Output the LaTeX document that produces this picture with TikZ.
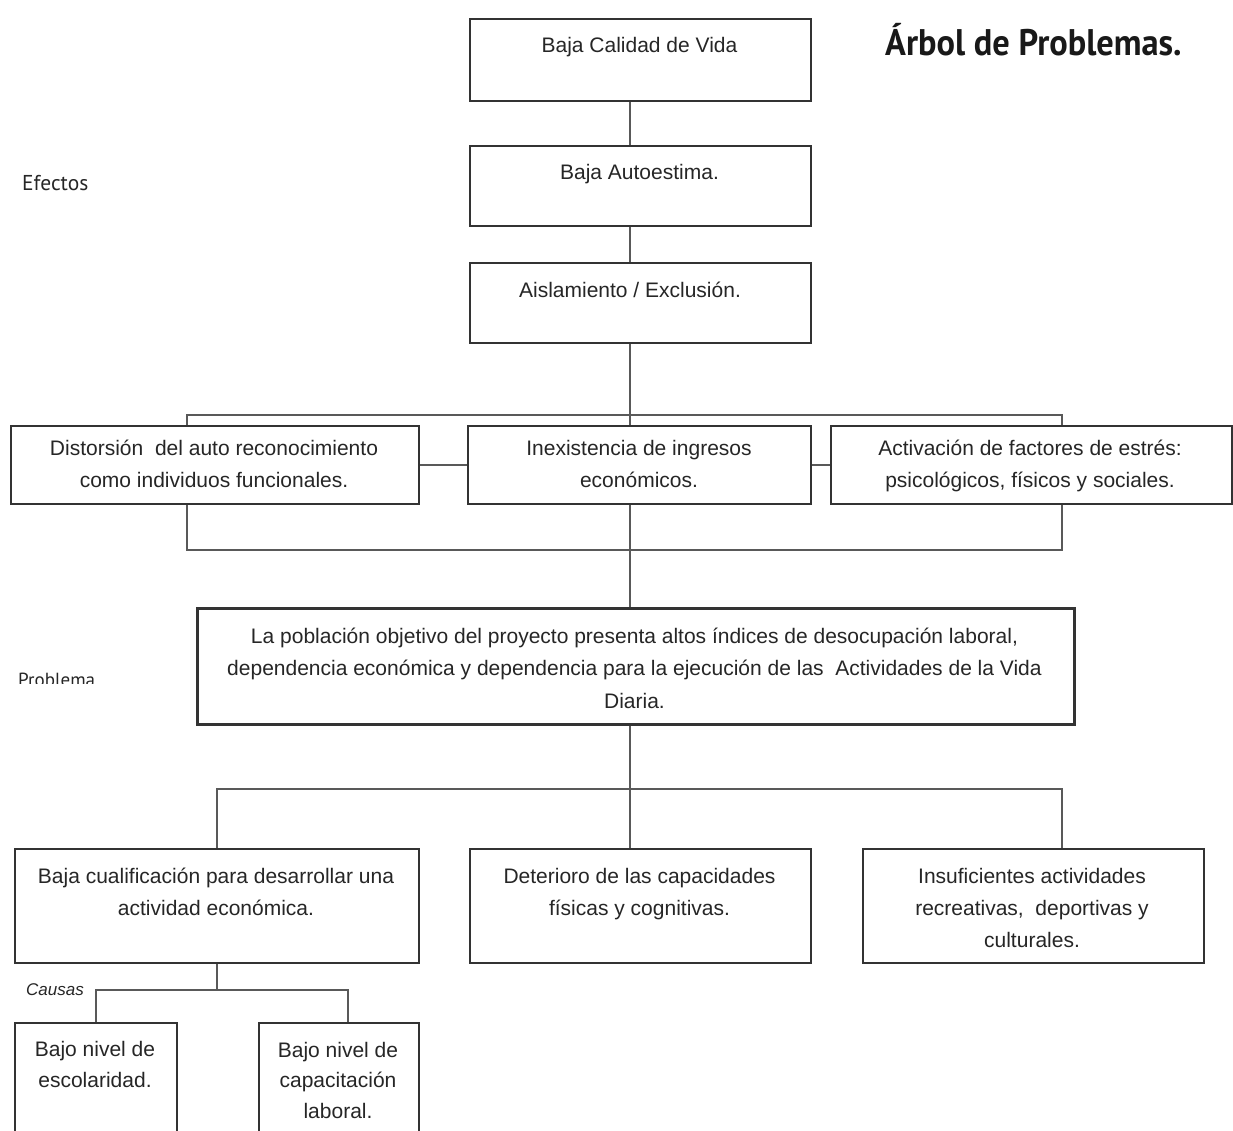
\documentclass[tikz,border=0pt]{standalone}
\usepackage{fontspec}
\setmainfont{Liberation Sans}
\newfontfamily\titlefont{PT Sans}
\usetikzlibrary{backgrounds}
\begin{document}
\begin{tikzpicture}[x=1pt,y=-1pt,
  box/.style={draw=black!80, line width=1.6pt, fill=white, anchor=north west, inner sep=0pt},
  txt/.style={font=\fontsize{21}{32.5}\selectfont, align=center, anchor=base, inner sep=0pt, text=black!85},
  conn/.style={draw=black!65, line width=1.4pt},
  lbl/.style={font=\titlefont\fontsize{21.5}{23}\selectfont, anchor=base west, inner sep=0pt, text=black!85}]
\useasboundingbox (0,0) rectangle (1233,1130);
% boxes
\node[box, minimum width=341pt, minimum height=82pt] (b1) at (469,18) {};
\node[box, minimum width=341pt, minimum height=80pt] (b2) at (469,145) {};
\node[box, minimum width=341pt, minimum height=80pt] (b3) at (469,262) {};
\node[box, minimum width=408pt, minimum height=78pt] (A) at (10,425) {};
\node[box, minimum width=343pt, minimum height=78pt] (B) at (467,425) {};
\node[box, minimum width=401pt, minimum height=78pt] (C) at (830,425) {};
\node[box, line width=2.6pt, minimum width=877pt, minimum height=116pt] (P) at (196,607) {};
\node[box, minimum width=404pt, minimum height=114pt] (D) at (14,848) {};
\node[box, minimum width=341pt, minimum height=114pt] (E) at (469,848) {};
\node[box, minimum width=341pt, minimum height=114pt] (F) at (862,848) {};
\node[box, minimum width=162pt, minimum height=140pt] (G) at (14,1022) {};
\node[box, minimum width=160pt, minimum height=140pt] (H) at (258,1022) {};
% junction coordinates
\coordinate (tx) at (630,0);
\coordinate (ba) at (187,415);
\coordinate (bc) at (1062,415);
\coordinate (bl) at (187,550);
\coordinate (br) at (1062,550);
\coordinate (lj) at (217,789);
\coordinate (rj) at (1062,789);
\coordinate (cj) at (217,990);
\coordinate (ch) at (348,990);
% connectors
\begin{scope}[on background layer]
\draw[conn] (tx |- b1.south) -- (tx |- b2.north);
\draw[conn] (tx |- b2.south) -- (tx |- b3.north);
\draw[conn] (tx |- b3.south) -- (tx |- P.north);
\draw[conn] (ba |- A.north) -- (ba) -- (bc) -- (bc |- C.north);
\draw[conn] (bl |- A.south) -- (bl) -- (br) -- (br |- C.south);
\draw[conn] (A.east) -- (B.west);
\draw[conn] (B.east) -- (C.west);
\draw[conn] (tx |- P.south) -- (tx |- E.north);
\draw[conn] (lj |- D.north) -- (lj) -- (rj) -- (rj |- F.north);
\draw[conn] (cj |- D.south) -- (cj);
\draw[conn] (G.north) -- (G.north |- ch) -- (ch) -- (ch |- H.north);
\end{scope}
% texts (anchor = baseline of last line)
\node[txt] (t1) at (639.5,52) {Baja Calidad de Vida};
\node[txt] (t2) at (639.5,179) {Baja Autoestima.};
\node[txt] (t3) at (630,297) {Aislamiento / Exclusión.};
\node[txt] (tA) at (214,487.5) {Distorsión\ \ del auto reconocimiento\\como individuos funcionales.};
\node[txt] (tB) at (639,487.5) {Inexistencia de ingresos\\económicos.};
\node[txt] (tC) at (1030,487.5) {Activación de factores de estrés:\\psicológicos, físicos y sociales.};
\node[txt] (tP) at (634.5,708) {La población objetivo del proyecto presenta altos índices de desocupación laboral,\\dependencia económica y dependencia para la ejecución de las\ \ Actividades de la Vida\\Diaria.};
\node[txt] (tD) at (216,915.5) {Baja cualificación para desarrollar una\\actividad económica.};
\node[txt] (tE) at (639.5,915.5) {Deterioro de las capacidades\\físicas y cognitivas.};
\node[txt, font=\fontsize{21}{32}\selectfont] (tF) at (1032,947) {Insuficientes actividades\\recreativas,\ \ deportivas y\\culturales.};
\node[txt, font=\fontsize{21}{30.5}\selectfont] (tG) at (95,1087) {Bajo nivel de\\escolaridad.};
\node[txt, font=\fontsize{21}{30.5}\selectfont] (tH) at (338,1118) {Bajo nivel de\\capacitación\\laboral.};
% labels
\node[font=\titlefont\bfseries\fontsize{37}{40}\selectfont, anchor=base west, inner sep=0pt, text=black!90] (title) at (885,55) {\scalebox{0.93}[1]{Árbol de Problemas.}};
\node[lbl] (ef) at (22,190) {Efectos};
\begin{scope}
\clip (0,660) rectangle (200,683);
\node[lbl, font=\titlefont\fontsize{19}{21}\selectfont] (pr) at (18,686) {Problema};
\end{scope}
\node[font=\itshape\fontsize{17}{20}\selectfont, anchor=base west, inner sep=0pt, text=black!85] (ca) at (26,995) {Causas};
\end{tikzpicture}
\end{document}
